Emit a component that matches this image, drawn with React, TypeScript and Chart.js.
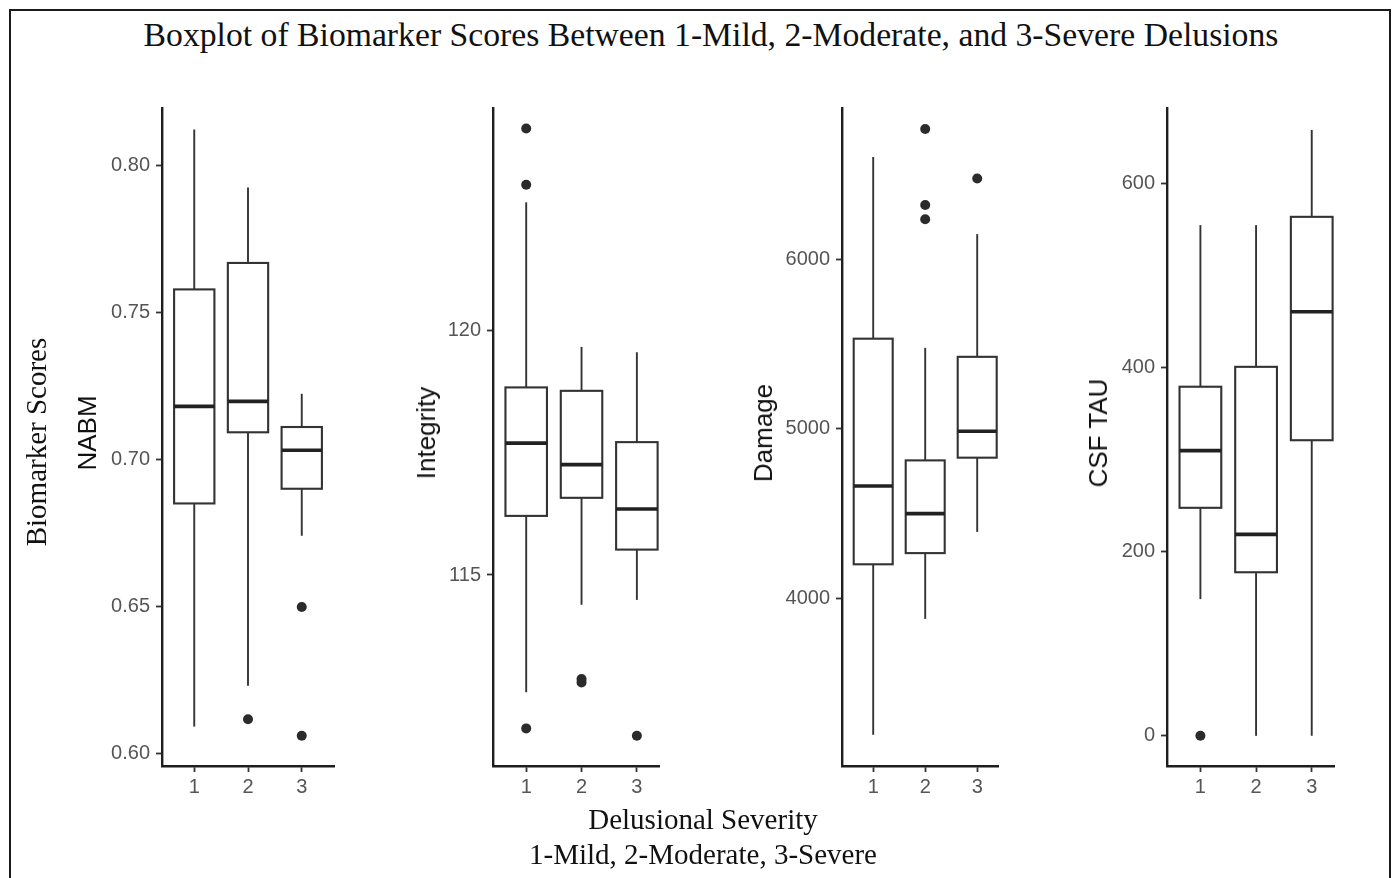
import React, { useEffect, useRef } from "react";
import { Chart, registerables } from "chart.js";

Chart.register(...registerables);

// ---------- data ----------
const CATEGORIES = [1, 2, 3];
const X_TICK_LABELS = ["1", "2", "3"];

const PANEL_TITLES = ["NABM", "Integrity", "Damage", "CSF TAU"];

// NABM
const NABM_MIN = [0.6093, 0.6232, 0.6742];
const NABM_Q1 = [0.6852, 0.7094, 0.6902];
const NABM_MEDIAN = [0.7182, 0.7199, 0.7033];
const NABM_Q3 = [0.758, 0.767, 0.7112];
const NABM_MAX = [0.8124, 0.7927, 0.7225];
const NABM_OUTLIER_GROUP = [2, 3, 3];
const NABM_OUTLIER_VALUE = [0.6118, 0.65, 0.6062];
const NABM_TICKS = [0.6, 0.65, 0.7, 0.75, 0.8];

// Integrity
const INTEGRITY_MIN = [112.6, 114.39, 114.49];
const INTEGRITY_Q1 = [116.21, 116.58, 115.52];
const INTEGRITY_MEDIAN = [117.7, 117.26, 116.35];
const INTEGRITY_Q3 = [118.84, 118.77, 117.72];
const INTEGRITY_MAX = [122.63, 119.67, 119.56];
const INTEGRITY_OUTLIER_GROUP = [1, 1, 1, 2, 2, 3];
const INTEGRITY_OUTLIER_VALUE = [124.14, 122.99, 111.86, 112.87, 112.8, 111.71];
const INTEGRITY_TICKS = [115, 120];

// Damage
const DAMAGE_MIN = [3193, 3877, 4390];
const DAMAGE_Q1 = [4199, 4265, 4828];
const DAMAGE_MEDIAN = [4661, 4498, 4984];
const DAMAGE_Q3 = [5530, 4812, 5423];
const DAMAGE_MAX = [6602, 5476, 6147];
const DAMAGE_OUTLIER_GROUP = [2, 2, 2, 3];
const DAMAGE_OUTLIER_VALUE = [6767, 6319, 6235, 6475];
const DAMAGE_TICKS = [4000, 5000, 6000];

// CSF TAU
const TAU_MIN = [148.5, 0, 0];
const TAU_Q1 = [247.6, 177.6, 321];
const TAU_MEDIAN = [309.7, 218.7, 460.5];
const TAU_Q3 = [379.1, 400.7, 563.6];
const TAU_MAX = [554.6, 554.6, 658];
const TAU_OUTLIER_GROUP = [1];
const TAU_OUTLIER_VALUE = [0];
const TAU_TICKS = [0, 200, 400, 600];

// ---------- layout ----------
const SANS = "'Liberation Sans', Arial, Helvetica, sans-serif";
const SERIF = "'Liberation Serif', 'Times New Roman', serif";
const CANVAS_TOP = 90;
const AREA_TOP = 105;
const AREA_BOTTOM = 766;

type PanelCfg = {
  title: string;
  min: number[];
  q1: number[];
  median: number[];
  q3: number[];
  max: number[];
  outGroup: number[];
  outValue: number[];
  ticks: number[];
  decimals: number;
  yMin: number;
  yMax: number;
  xMax: number;
  axisX: number;
  axisRight: number;
  titleX: number;
};

const PANELS: PanelCfg[] = [
  {
    title: PANEL_TITLES[0],
    min: NABM_MIN, q1: NABM_Q1, median: NABM_MEDIAN, q3: NABM_Q3, max: NABM_MAX,
    outGroup: NABM_OUTLIER_GROUP, outValue: NABM_OUTLIER_VALUE, ticks: NABM_TICKS,
    decimals: 2, yMin: 0.5959, yMax: 0.8197, xMax: 3.6, axisX: 162, axisRight: 334, titleX: 87,
  },
  {
    title: PANEL_TITLES[1],
    min: INTEGRITY_MIN, q1: INTEGRITY_Q1, median: INTEGRITY_MEDIAN, q3: INTEGRITY_Q3, max: INTEGRITY_MAX,
    outGroup: INTEGRITY_OUTLIER_GROUP, outValue: INTEGRITY_OUTLIER_VALUE, ticks: INTEGRITY_TICKS,
    decimals: 0, yMin: 111.09, yMax: 124.56, xMax: 3.4, axisX: 493, axisRight: 659, titleX: 426,
  },
  {
    title: PANEL_TITLES[2],
    min: DAMAGE_MIN, q1: DAMAGE_Q1, median: DAMAGE_MEDIAN, q3: DAMAGE_Q3, max: DAMAGE_MAX,
    outGroup: DAMAGE_OUTLIER_GROUP, outValue: DAMAGE_OUTLIER_VALUE, ticks: DAMAGE_TICKS,
    decimals: 0, yMin: 3009, yMax: 6891, xMax: 3.4, axisX: 842, axisRight: 998, titleX: 763,
  },
  {
    title: PANEL_TITLES[3],
    min: TAU_MIN, q1: TAU_Q1, median: TAU_MEDIAN, q3: TAU_Q3, max: TAU_MAX,
    outGroup: TAU_OUTLIER_GROUP, outValue: TAU_OUTLIER_VALUE, ticks: TAU_TICKS,
    decimals: 0, yMin: -32.8, yMax: 681.8, xMax: 3.4, axisX: 1167, axisRight: 1334, titleX: 1098,
  },
];

const Y_SCALE_W = 60;
const PAD_LEFT = 20;
const PAD_RIGHT = 15;
const X_SCALE_H = 40;
const CANVAS_H = 730;

function makeBoxPlugin(p: PanelCfg) {
  return {
    id: "boxplot",
    beforeDatasetsDraw(chart: any) {
      const { ctx } = chart;
      const xs = chart.scales.x;
      const ys = chart.scales.y;
      ctx.save();
      const line = (x1: number, y1: number, x2: number, y2: number) => {
        ctx.beginPath();
        ctx.moveTo(x1, y1);
        ctx.lineTo(x2, y2);
        ctx.stroke();
      };
      CATEGORIES.forEach((c, i) => {
        const xc = xs.getPixelForValue(c);
        const xl = xs.getPixelForValue(c - 0.375);
        const xr = xs.getPixelForValue(c + 0.375);
        const yMin = ys.getPixelForValue(p.min[i]);
        const yQ1 = ys.getPixelForValue(p.q1[i]);
        const yMed = ys.getPixelForValue(p.median[i]);
        const yQ3 = ys.getPixelForValue(p.q3[i]);
        const yMax = ys.getPixelForValue(p.max[i]);
        ctx.strokeStyle = "#333333";
        ctx.lineWidth = 1.9;
        line(xc, yQ3, xc, yMax);
        line(xc, yQ1, xc, yMin);
        ctx.fillStyle = "#ffffff";
        ctx.fillRect(xl, yQ3, xr - xl, yQ1 - yQ3);
        ctx.lineWidth = 2.1;
        ctx.strokeRect(xl, yQ3, xr - xl, yQ1 - yQ3);
        ctx.lineWidth = 3.6;
        ctx.strokeStyle = "#222222";
        line(xl, yMed, xr, yMed);
      });
      ctx.restore();
    },
  };
}

function Panel({ p }: { p: PanelCfg }) {
  const ref = useRef<HTMLCanvasElement>(null);
  const left = p.axisX - PAD_LEFT - Y_SCALE_W;
  const width = p.axisRight - left + PAD_RIGHT;
  const padTop = AREA_TOP - CANVAS_TOP;
  const padBottom = CANVAS_H - (AREA_BOTTOM - CANVAS_TOP) - X_SCALE_H;

  useEffect(() => {
    const outliers = p.outGroup.map((g, i) => ({ x: g, y: p.outValue[i] }));
    const chart = new Chart(ref.current!, {
      type: "scatter",
      data: {
        datasets: [
          {
            data: outliers,
            pointRadius: 5,
            pointBorderWidth: 0,
            backgroundColor: "#2b2b2b",
            borderColor: "#2b2b2b",
          },
        ],
      },
      options: {
        animation: false,
        responsive: false,
        events: [],
        layout: { padding: { top: padTop, bottom: padBottom, left: PAD_LEFT, right: PAD_RIGHT } },
        plugins: { legend: { display: false }, tooltip: { enabled: false }, title: { display: false } },
        scales: {
          x: {
            type: "linear",
            min: 0.4,
            max: p.xMax,
            bounds: "data",
            afterBuildTicks: (s: any) => {
              s.ticks = CATEGORIES.map((v) => ({ value: v }));
            },
            afterFit: (s: any) => {
              s.height = X_SCALE_H;
            },
            ticks: {
              autoSkip: false,
              maxRotation: 0,
              padding: 3,
              color: "#555555",
              font: { family: SANS, size: 20 },
              callback: (v: any) => X_TICK_LABELS[CATEGORIES.indexOf(Number(v))] ?? "",
            },
            grid: {
              display: true,
              drawOnChartArea: false,
              drawTicks: true,
              tickLength: 6,
              tickColor: "#333333",
              tickWidth: 1.8,
            },
            border: { display: true, color: "#1e1e1e", width: 2.4 },
          },
          y: {
            type: "linear",
            min: p.yMin,
            max: p.yMax,
            bounds: "data",
            afterBuildTicks: (s: any) => {
              s.ticks = p.ticks.map((v) => ({ value: v }));
            },
            afterFit: (s: any) => {
              s.width = Y_SCALE_W;
            },
            ticks: {
              autoSkip: false,
              padding: 6,
              color: "#555555",
              font: { family: SANS, size: 20 },
              callback: (v: any) => Number(v).toFixed(p.decimals),
            },
            grid: {
              display: true,
              drawOnChartArea: false,
              drawTicks: true,
              tickLength: 6,
              tickColor: "#333333",
              tickWidth: 1.8,
            },
            border: { display: true, color: "#1e1e1e", width: 2.4 },
          },
        },
      },
      plugins: [makeBoxPlugin(p)],
    } as any);
    return () => chart.destroy();
  }, []);

  return (
    <canvas
      ref={ref}
      width={width}
      height={CANVAS_H}
      style={{ position: "absolute", left, top: CANVAS_TOP, width, height: CANVAS_H }}
    />
  );
}

function RotatedText({ text, cx, cy, size, family, color }: any) {
  return (
    <div
      style={{
        position: "absolute",
        left: cx,
        top: cy,
        transform: "translate(-50%, -50%) rotate(-90deg)",
        whiteSpace: "nowrap",
        fontFamily: family,
        fontSize: size,
        lineHeight: 1,
        color,
      }}
    >
      {text}
    </div>
  );
}

export default function App() {
  return (
    <div
      style={{
        position: "absolute",
        left: 0,
        top: 0,
        width: 1397,
        height: 878,
        overflow: "hidden",
        background: "#ffffff",
      }}
    >
      <div
        style={{
          position: "absolute",
          left: 9,
          top: 9,
          width: 1382,
          height: 1000,
          boxSizing: "border-box",
          border: "2px solid #1a1a1a",
        }}
      />
      <div
        style={{
          position: "absolute",
          left: 0,
          width: 1422,
          top: 18,
          textAlign: "center",
          fontFamily: SERIF,
          fontSize: 33.7,
          lineHeight: 1,
          color: "#111",
          whiteSpace: "nowrap",
        }}
      >
        Boxplot of Biomarker Scores Between 1-Mild, 2-Moderate, and 3-Severe Delusions
      </div>
      {PANELS.map((p, i) => (
        <Panel key={i} p={p} />
      ))}
      {PANELS.map((p, i) => (
        <RotatedText key={"t" + i} text={p.title} cx={p.titleX} cy={433} size={26} family={SANS} color="#111" />
      ))}
      <RotatedText text="Biomarker Scores" cx={36} cy={442} size={29} family={SERIF} color="#111" />
      <div
        style={{
          position: "absolute",
          left: 0,
          width: 1406,
          top: 805,
          textAlign: "center",
          fontFamily: SERIF,
          fontSize: 29,
          lineHeight: 1,
          color: "#111",
          whiteSpace: "nowrap",
        }}
      >
        Delusional Severity
      </div>
      <div
        style={{
          position: "absolute",
          left: 0,
          width: 1406,
          top: 840,
          textAlign: "center",
          fontFamily: SERIF,
          fontSize: 29,
          lineHeight: 1,
          color: "#111",
          whiteSpace: "nowrap",
        }}
      >
        1-Mild, 2-Moderate, 3-Severe
      </div>
    </div>
  );
}
